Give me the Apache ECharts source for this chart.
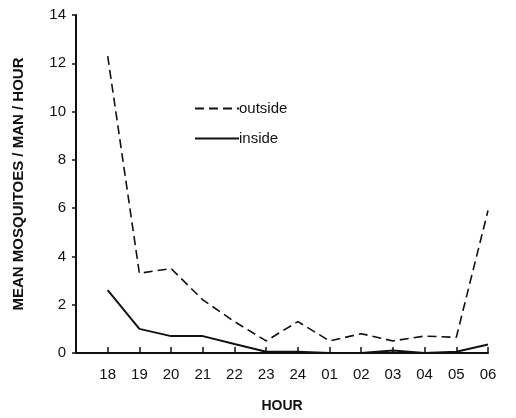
<!DOCTYPE html>
<html>
<head>
<meta charset="utf-8">
<script src="https://cdn.jsdelivr.net/npm/echarts@6/dist/echarts.min.js"></script>
<style>
  html, body { margin: 0; padding: 0; background: #fff; }
  #chart { width: 516px; height: 418px; }
</style>
</head>
<body>
<div id="chart"></div>
<script>
// hours of the night, 18:00 to 06:00
var hours = ['18', '19', '20', '21', '22', '23', '24', '01', '02', '03', '04', '05', '06'];
var outside = [12.3, 3.3, 3.5, 2.2, 1.3, 0.5, 1.3, 0.5, 0.8, 0.5, 0.7, 0.65, 5.9];
var inside = [2.6, 1.0, 0.7, 0.7, 0.37, 0.05, 0.05, 0, 0, 0.1, 0, 0.05, 0.35];
var yTicks = [0, 2, 4, 6, 8, 10, 12, 14];

function pairs(vals) {
    return vals.map(function (v, i) { return [i, v]; });
}

var chart = echarts.init(document.getElementById('chart'));
var labelFont = 'Liberation Sans';

var option = {
    backgroundColor: '#fff',
    animation: false,
    grid: { left: 76, right: 28, top: 15, bottom: 64 },
    legend: {
        orient: 'vertical',
        left: 189,
        top: 96,
        itemWidth: 44,
        itemHeight: 14,
        itemGap: 15,
        data: ['outside', 'inside'],
        itemStyle: { opacity: 0 },
        textStyle: { color: '#111', fontSize: 15, fontFamily: labelFont, padding: [0, 0, 0, -5] }
    },
    xAxis: {
        type: 'value',
        min: -1,
        max: 12,
        interval: 1,
        name: 'HOUR',
        nameLocation: 'middle',
        nameGap: 46,
        nameTextStyle: { color: '#111', fontSize: 14, fontWeight: 'bold', fontFamily: labelFont },
        splitLine: { show: false },
        axisLine: { onZero: false, lineStyle: { color: '#111', width: 2 } },
        axisTick: { inside: true, length: 6, lineStyle: { color: '#111', width: 1.5 } },
        axisLabel: {
            color: '#111', fontSize: 15, fontFamily: labelFont, margin: 14,
            formatter: function (v) { return v >= 0 ? hours[v] : ''; }
        }
    },
    yAxis: {
        type: 'value',
        min: yTicks[0],
        max: yTicks[yTicks.length - 1],
        interval: 2,
        name: 'MEAN MOSQUITOES / MAN / HOUR',
        nameLocation: 'middle',
        nameGap: 50,
        nameTextStyle: { color: '#111', fontSize: 15, fontWeight: 'bold', fontFamily: labelFont },
        splitLine: { show: false },
        axisLine: { show: true, onZero: false, lineStyle: { color: '#111', width: 2 } },
        axisTick: { show: true, length: 4, lineStyle: { color: '#111', width: 1.5 } },
        axisLabel: { color: '#111', fontSize: 15, fontFamily: labelFont, margin: 10 }
    },
    series: [
        {
            name: 'outside',
            type: 'line',
            symbol: 'none',
            clip: false,
            data: pairs(outside),
            itemStyle: { color: '#111' },
            lineStyle: { color: '#111', width: 1.6, type: [9, 5] }
        },
        {
            name: 'inside',
            type: 'line',
            symbol: 'none',
            clip: false,
            data: pairs(inside),
            itemStyle: { color: '#111' },
            lineStyle: { color: '#111', width: 2 }
        }
    ]
};

chart.setOption(option);
</script>
</body>
</html>
